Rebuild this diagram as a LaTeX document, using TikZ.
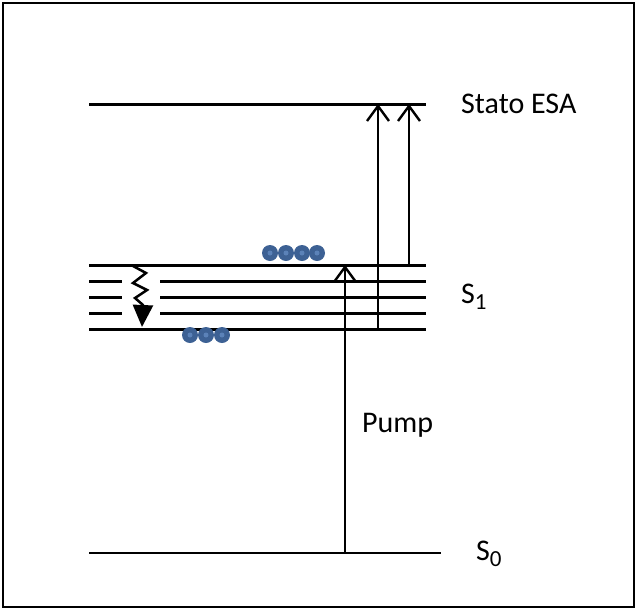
\documentclass[tikz,border=0pt]{standalone}
\usepackage{fontspec}
\setmainfont{Carlito}
\usepackage{xcolor}
\usetikzlibrary{arrows.meta}
\definecolor{dotblue}{HTML}{3D6194}
\definecolor{dotcore}{HTML}{5B82B8}
\newcommand{\lvsub}[1]{\raisebox{-6pt}{\fontsize{23}{26}\selectfont #1}}

\begin{document}
\begin{tikzpicture}[
  x=1pt,y=-1pt,
  font=\fontsize{30}{36}\selectfont,
  level/.style={line width=3pt},
  ground/.style={line width=2.4pt},
  arr/.style={-{Straight Barb[length=15pt,width=22pt,line width=2.4pt]},line width=2.3pt},
  relax/.style={-{Triangle[length=22pt,width=20pt]},line width=2.5pt},
  dot/.style={circle,fill=dotblue,inner sep=0pt,minimum size=16pt,
    path picture={\fill[dotcore] (path picture bounding box.center) circle (2.5pt);}},
  lbl/.style={anchor=base west,inner sep=0pt}
]
\useasboundingbox (0,0) rectangle (638,611);
\draw[line width=1.5pt] (3,3) rectangle (634,607);

% levels
\draw[level] (89,104) coordinate (esaL) -- (426,104) coordinate (esaR);
\draw[level] (89,265) coordinate (s1aL) -- (426,265) coordinate (s1aR);
\foreach \y in {281,297,313} {
  \draw[level] (89,\y) -- (122,\y);
  \draw[level] (160,\y) -- (426,\y);
}
\draw[level] (89,329) coordinate (s1eL) -- (426,329) coordinate (s1eR);
\draw[ground] (89,553) coordinate (s0L) -- (441,553) coordinate (s0R);

% labels
\node[lbl] (esa) at (461,113) {Stato ESA};
\node[lbl] (s1) at (461,303) {S\lvsub{1}};
\node[lbl] (pump) at (362,432) {Pump};
\node[lbl] (s0) at (476,560) {S\lvsub{0}};

% transitions
\coordinate (pumpB) at (345,553);
\coordinate (pumpT) at (345,265);
\coordinate (esa1B) at (378,329);
\coordinate (esa1T) at (378,104);
\coordinate (esa2B) at (409,265);
\coordinate (esa2T) at (409,104);
\draw[arr] (pumpB) -- (pumpT);
\draw[arr] (esa1B) -- (esa1T);
\draw[arr] (esa2B) -- (esa2T);

% relaxation
\coordinate (zz) at (133,266);
\coordinate (zzE) at (142,327);
\draw[line width=2.5pt,line join=miter] (zz) -- (146,273) -- (133,283) -- (147,290) -- (135,298) -- (143,305);
\draw[relax] (143,304) -- (zzE);

% populations
\foreach \x [count=\i] in {270,286,302,317}
  \node[dot] (up\i) at (\x,253) {};
\foreach \x [count=\i] in {190,206,222}
  \node[dot] (lo\i) at (\x,335) {};
\end{tikzpicture}
\end{document}
